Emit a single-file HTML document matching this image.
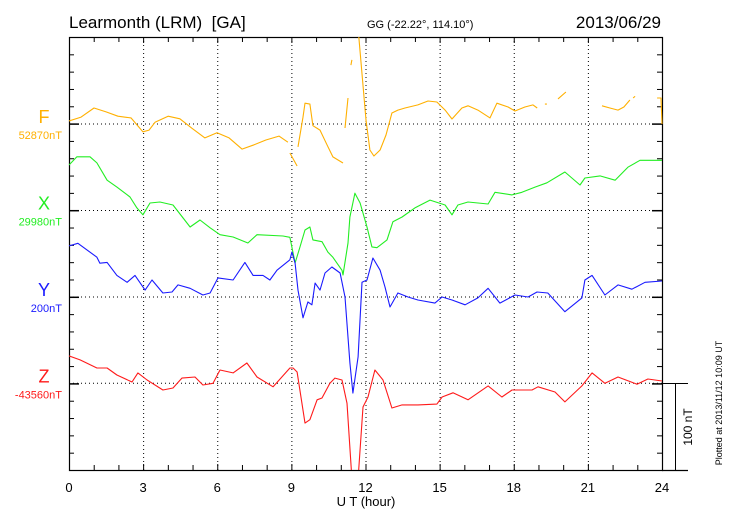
<!DOCTYPE html>
<html><head><meta charset="utf-8"><style>
html,body{margin:0;padding:0;background:#fff;}
svg{display:block;font-family:"Liberation Sans",sans-serif;}
</style></head><body>
<svg id="chart" width="730" height="520" viewBox="0 0 730 520" xmlns="http://www.w3.org/2000/svg">
<defs><clipPath id="plotclip"><rect x="69" y="37" width="594" height="433"/></clipPath></defs>
<text x="69" y="28" font-size="17" xml:space="preserve">Learmonth (LRM)  [GA]</text>
<text x="367" y="28" font-size="11">GG (-22.22°, 114.10°)</text>
<text x="661" y="28" font-size="17" text-anchor="end">2013/06/29</text>
<g id="grid"></g>
<g id="axes"></g>
<g id="series" clip-path="url(#plotclip)"></g>
<g id="labels"></g>
<text x="366" y="506" font-size="13" text-anchor="middle">U T (hour)</text>
<line x1="675.5" y1="383" x2="675.5" y2="470" stroke="#000" stroke-width="1"/>
<text transform="translate(692,427) rotate(-90)" font-size="12" text-anchor="middle">100 nT</text>
<text transform="translate(722,403) rotate(-90)" font-size="9" text-anchor="middle">Plotted at 2013/11/12 10:09 UT</text>
</svg>
<script>
// ---- data (nT offsets from each series baseline; null = data gap) ----
const xTickLabels = [0,3,6,9,12,15,18,21,24];
const seriesNames = ["F","X","Y","Z"];
const baselineLabels = ["52870nT","29980nT","200nT","-43560nT"];
const fTime = [0,.49,1.01,1.5,1.98,2.51,2.99,3.24,3.48,4.01,4.49,4.98,5.5,5.99,6.48,7.0,7.49,7.97,8.5,8.86,null,8.94,9.23,null,9.27,9.47,9.55,9.75,9.87,10.16,10.44,10.68,11.09,null,11.17,11.29,null,11.41,11.45,null,11.57,11.70,12.02,12.18,12.34,12.59,12.83,13.07,13.31,13.6,14.12,14.53,14.89,15.22,15.5,15.9,16.15,16.55,17.04,17.32,17.77,18.05,18.45,18.78,18.95,null,19.26,19.34,null,19.79,20.11,null,21.57,21.89,22.22,22.46,22.7,null,22.83,22.91,null,23.8,23.96,24.0];
const fVal = [3.5,8,18.5,14,9,7,-9,-7,2,9,6,-5,-16,-10,-16,-29,-24,-18.5,-14,-21,null,-33.5,-48.5,null,-26.5,8,24,23,-2,-7,-24,-38,-45,null,-4.6,30,null,68,74,null,110,110,4.6,-30,-37,-30,-12.7,12.7,16,18.5,22,26.6,25.4,16,5.8,18.5,21,16,7,24,19.6,15,19.6,22,18.5,null,23,23,null,29,37,null,21,18.5,16,19.6,27.7,null,30,32,null,30,30,0];
const xTime = [0,.32,.85,1.13,1.54,1.94,2.47,2.75,2.99,3.28,3.68,4.21,4.9,5.3,5.71,6.11,6.64,7.24,7.61,8.66,8.94,9.15,9.35,9.55,9.75,9.87,10.24,10.48,10.68,11.05,11.09,11.29,11.37,11.57,11.78,12.06,12.26,12.46,12.87,13.11,13.48,14.0,14.61,15.22,15.5,15.74,16.15,16.96,17.24,17.93,18.33,18.86,19.34,20.07,20.68,20.88,21.49,22.1,22.62,23.11,24];
const xVal = [52.5,62,62,55,35,27,15.6,3,-5,8.7,9.8,6.4,-19,-11,-20,-28,-30.6,-37.5,-28,-29.5,-31,-60.6,-42,-22.5,-19,-34,-36,-48,-54,-69,-74.5,-37.5,-7.5,20,8.7,-19,-42,-43,-34,-13,-7.5,3,12,6.4,-5,6.4,9.8,7.5,21,18,21,27,32,44.5,29.5,37.5,40,35,50,58,58];
const yTime = [0,.36,1.13,1.25,1.54,1.94,2.35,2.67,3.08,3.36,3.8,4.17,4.41,4.9,5.42,5.71,6.03,6.64,7.12,7.45,7.85,8.13,8.42,8.94,9.02,9.15,9.27,9.47,9.67,9.83,9.96,10.16,10.36,10.64,10.97,11.17,11.37,11.49,11.7,11.86,12.06,12.3,12.59,12.79,12.99,13.31,13.72,14.12,14.81,15.1,15.5,16.03,16.55,16.96,17.44,18.05,18.58,18.94,19.38,20.07,20.76,20.88,21.17,21.69,22.22,22.78,23.31,24];
const yVal = [59,62,46,39,40,25,17,25,8,19.6,4.6,5.8,14,10,2.3,4.6,22,19.6,40,25,25,19.6,31,43,52,39,8,-24,-5.8,-9,16,8,27.7,34.6,27.7,0,-76,-111,-69,17,19.6,45,31,11.5,-11.5,4.6,0,-3.5,-7,0,-3.5,-9,-1,10,-7,2.3,0,5.8,4.6,-17,-1,19.6,25,2.3,14,9,17,18.5];
const zTime = [0,.45,1.13,1.54,1.94,2.55,2.79,3.16,3.8,4.21,4.57,5.1,5.42,5.83,6.11,6.64,7.2,7.61,8.26,8.94,9.07,9.23,9.55,9.75,10.04,10.24,10.56,10.76,11.05,11.25,11.45,11.7,11.9,12.1,12.38,12.71,13.07,13.48,14.12,14.89,15.1,15.54,16.15,16.96,17.52,17.93,18.74,18.98,19.67,20.07,20.76,21.17,21.69,22.22,22.99,23.43,24];
const zVal = [31.6,27,17.7,17.7,9.6,1.5,12,3.8,-7.7,-5.4,6,7.3,-2,0,15.4,12,23.4,7.3,-4,17.7,17.7,13,-46,-42,-19,-17,0,6,3.8,-23,-110,-110,-27.4,-15.8,15.4,3.8,-28.5,-25,-25,-24,-15.8,-11,-19,-3,-15.8,-7.7,-7.7,-4,-10,-21.5,-3,12,0,7.3,-1,5,2.7];

const colors = ["#ffb000","#22ee22","#1a1aff","#ff1a1a"];
const baselines = [124, 210.5, 297, 383.3];
const PX_PER_NT = 0.866;
const L = 69, R = 662, T = 37, B = 470;
function xScale(h){ return L + h*(R-L)/24; }
function yScale(i, v){ return baselines[i] - v*PX_PER_NT; }

const NS = "http://www.w3.org/2000/svg";
function mk(tag, parent, attrs){ const e=document.createElementNS(NS,tag); for(const k in attrs) e.setAttribute(k,attrs[k]); parent.appendChild(e); return e; }
const grid = document.getElementById('grid'), axes = document.getElementById('axes'), series = document.getElementById('series'), labels = document.getElementById('labels');

xTickLabels.forEach(h => {
  if (h===0 || h===24) return;
  const gl = mk('line', grid, {x1:xScale(h)+0.5, x2:xScale(h)+0.5, y1:T, y2:B, stroke:'#000', 'stroke-width':1, 'stroke-dasharray':'1,3'});
  
  
});
baselines.forEach((b,i) => {
  const gl = mk('line', grid, {x1:L, x2:R, y1:b, y2:b, stroke:'#000', 'stroke-width':1, 'stroke-dasharray':'1,3'});
  
  
});

const fr = mk('rect', axes, {x:L+0.5, y:T+0.5, width:R-L, height:B-T, fill:'none', stroke:'#000', 'stroke-width':1.2});


const ext = mk('line', axes, {x1:R, x2:688, y1:B+0.5, y2:B+0.5, stroke:'#000', 'stroke-width':1.2});


const ext2 = mk('line', axes, {x1:R, x2:688, y1:383.5, y2:383.5, stroke:'#000', 'stroke-width':1});



for (let h=0; h<=24; h++){
  const x = xScale(h)+0.5, len = (h%3===0)?6:5;
  const t1 = mk('line', axes, {x1:x,x2:x,y1:B,y2:B-len,stroke:'#000'});
  
  
  const t2 = mk('line', axes, {x1:x,x2:x,y1:T,y2:T+len,stroke:'#000'});
  
  
}
xTickLabels.forEach(h => {
  const t = mk('text', axes, {x:xScale(h), y:492, 'font-size':13, 'text-anchor':'middle'});
  t.textContent = h;
  
  
});
for (let k=0; k<=25; k++){
  const y = B - k*20*PX_PER_NT + 0.5;
  const isBase = baselines.some(b => Math.abs(b-y)<2);
  const t1 = mk('line', axes, {x1:L,x2:L+(isBase?10:5),y1:y,y2:y,stroke:'#000','stroke-width':isBase?1.5:1});
  
  
  const t2 = mk('line', axes, {x1:R,x2:R-(isBase?10:5),y1:y,y2:y,stroke:'#000','stroke-width':isBase?1.5:1});
  
  
}

const allTimes = [fTime, xTime, yTime, zTime];
const allVals = [fVal, xVal, yVal, zVal];
allTimes.forEach((tArr, i) => {
  const vArr = allVals[i];
  let d = '', pen = false;
  for (let j=0; j<tArr.length; j++){
    if (tArr[j]===null || vArr[j]===null){ pen=false; continue; }
    d += (pen?'L':'M') + xScale(tArr[j]).toFixed(1) + ',' + yScale(i, vArr[j]).toFixed(1);
    pen = true;
  }
  const p = mk('path', series, {d:d, fill:'none', stroke:colors[i], 'stroke-width':1.1, 'stroke-linejoin':'round'});
  
  

  const n = mk('text', labels, {x:44, y:baselines[i]-1, 'font-size':18, 'text-anchor':'middle', fill:colors[i]});
  n.textContent = seriesNames[i];
  
  
  const b = mk('text', labels, {x:62, y:baselines[i]+15, 'font-size':11, 'text-anchor':'end', fill:colors[i]});
  b.textContent = baselineLabels[i];
  
  
});
</script>
</body></html>
